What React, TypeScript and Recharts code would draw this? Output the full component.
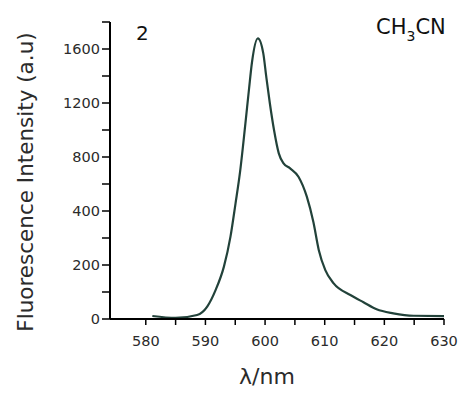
import React from 'react';
import { LineChart, Line, XAxis, YAxis } from 'recharts';

// wavelength (nm) and intensity (a.u)
const WAVELENGTH = [581.1, 585.0, 588.6, 590.3, 591.7, 593.1, 594.2, 595.05, 595.8, 596.7, 597.3, 597.8, 598.8, 599.7, 600.2, 600.8, 601.5, 602.3, 603.1, 604.2, 605.6, 607.0, 608.1, 609.0, 610.1, 611.5, 614.3, 616.5, 618.7, 621.5, 624.9, 630.0];
const INTENSITY = [11, 4, 15, 46, 107, 194, 305, 457, 688, 1048, 1300, 1500, 1679, 1568, 1395, 1198, 1000, 827, 753, 716, 654, 506, 359, 256, 181, 132, 89, 62, 36, 21, 12, 11];

// the printed y axis is not linear: equal steps carry these labels
const Y_LABELS = [0, 200, 400, 800, 1200, 1600];
const Y_TICKS = [0, 0.5, 1, 1.5, 2, 2.5, 3, 3.5, 4, 4.5, 5, 5.5];
const X_TICKS = [580, 585, 590, 595, 600, 605, 610, 615, 620, 625, 630];

const FONT = '"DejaVu Sans", Verdana, sans-serif';
const INK = '#2b2b2b';
const LINE = '#22423a';

// map a reading onto the equal-step axis
const toAxis = (v: number) => {
  for (let i = 1; i < Y_LABELS.length; i++) {
    if (v <= Y_LABELS[i] || i === Y_LABELS.length - 1) {
      const lo = Y_LABELS[i - 1];
      const hi = Y_LABELS[i];
      return i - 1 + (v - lo) / (hi - lo);
    }
  }
  return 0;
};

const data = WAVELENGTH.map((x, i) => ({ x, y: toAxis(INTENSITY[i]) }));

export default function App() {
  return (
    <div style={{ position: 'absolute', left: 0, top: 0, width: 461, height: 393, background: '#fff' }}>
      <LineChart width={461} height={393} data={data} margin={{ top: 22, right: 17, bottom: 0, left: 0 }}>
        <XAxis
          dataKey="x"
          type="number"
          domain={[574, 630]}
          ticks={X_TICKS}
          interval={0}
          tickFormatter={(v: number) => (v % 10 === 0 ? String(v) : '')}
          tickSize={6}
          tickMargin={11}
          height={74}
          allowDataOverflow
          axisLine={{ stroke: '#000', strokeWidth: 2 }}
          tickLine={{ stroke: '#000', strokeWidth: 1.5 }}
          tick={{ fill: INK, fontSize: 14.5, fontFamily: FONT }}
          label={{
            content: () => (
              <text x={267} y={384} textAnchor="middle" fill={INK} fontSize={22} fontFamily={FONT}>
                λ/nm
              </text>
            ),
          }}
        />
        <YAxis
          type="number"
          domain={[0, 5.5]}
          ticks={Y_TICKS}
          interval={0}
          tickFormatter={(v: number) => (Number.isInteger(v) ? String(Y_LABELS[v]) : '')}
          tickSize={8}
          tickMargin={2}
          width={110}
          axisLine={{ stroke: '#000', strokeWidth: 2 }}
          tickLine={{ stroke: '#000', strokeWidth: 1.5 }}
          tick={{ fill: INK, fontSize: 14.5, fontFamily: FONT }}
          label={{
            content: () => (
              <text
                x={0}
                y={0}
                transform="translate(33,182) rotate(-90)"
                textAnchor="middle"
                fill={INK}
                fontSize={21.5}
                fontFamily={FONT}
              >
                Fluorescence Intensity (a.u)
              </text>
            ),
          }}
        />
        <Line
          type="monotone"
          dataKey="y"
          stroke={LINE}
          strokeWidth={2.2}
          dot={false}
          isAnimationActive={false}
        />
      </LineChart>
      <svg width={461} height={393} style={{ position: 'absolute', left: 0, top: 0, pointerEvents: 'none' }}>
        <text x={136} y={40} fill="#111" fontSize={20} fontFamily={FONT}>2</text>
        <text x={376} y={34} fill="#111" fontSize={21} fontFamily={FONT}>
          CH<tspan fontSize={14} dy={7}>3</tspan><tspan dy={-7}>CN</tspan>
        </text>
      </svg>
    </div>
  );
}
